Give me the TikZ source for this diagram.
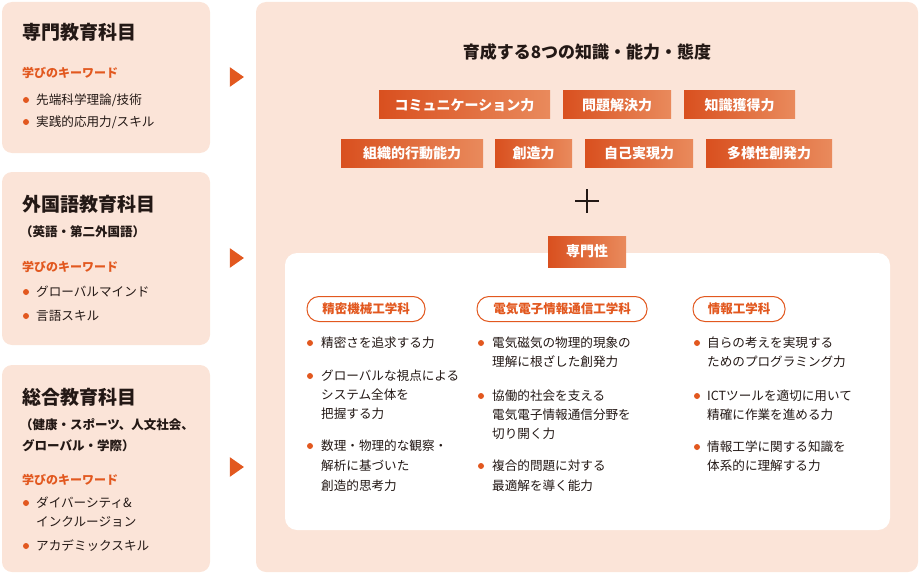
\documentclass[tikz,border=0pt]{standalone}
\usepackage{fontspec}
\setmainfont{Noto Sans CJK JP}
\usetikzlibrary{shapes.geometric}
\definecolor{bgp}{HTML}{FBE4D8}
\definecolor{org}{HTML}{E2581F}
\definecolor{dk}{HTML}{D9501F}
\definecolor{lt}{HTML}{E98A5C}
\definecolor{tx}{HTML}{231815}
\tikzset{
 panel/.style={fill=bgp,draw=none,rounded corners=10pt},
 txt/.style={anchor=west,inner sep=0pt,text=tx,font=\fontsize{12.6}{14}\selectfont},
 head/.style={anchor=west,inner sep=0pt,text=tx,font=\bfseries\fontsize{19}{21}\selectfont},
 sub/.style={anchor=west,inner sep=0pt,text=tx,font=\bfseries\fontsize{12.5}{14}\selectfont},
 kw/.style={anchor=west,inner sep=0pt,text=org,font=\bfseries\fontsize{12}{13}\selectfont},
 dot/.style={circle,fill=org,inner sep=0pt,minimum size=6pt},
 tri/.style={isosceles triangle,fill=org,inner sep=0pt,minimum height=14pt,minimum width=17pt,isosceles triangle apex angle=70},
 tag/.style={left color=dk,right color=lt,text=white,font=\bfseries\fontsize{14}{16}\selectfont,inner sep=0pt,minimum height=28pt},
 pill/.style={draw=org,line width=1pt,rounded corners=12pt,fill=white,text=org,font=\bfseries\fontsize{12.5}{14}\selectfont,minimum height=25pt,inner sep=0pt}
}
\begin{document}
\begin{tikzpicture}[x=1pt,y=-1pt]
\useasboundingbox (0,0) rectangle (920,575);
% left panels
\fill[panel] (2,2) rectangle (210,153);
\fill[panel] (2,172) rectangle (210,345);
\fill[panel] (2,365) rectangle (210,572);
\node[head] (h1) at (22,32) {専門教育科目};
\node[kw] (k1) at (22,73) {学びのキーワード};
\node[dot] (d11) at (26,100) {}; \node[txt] (t11) at (36,100) {先端科学理論/技術};
\node[dot] (d12) at (26,122) {}; \node[txt] (t12) at (36,122) {実践的応用力/スキル};
\node[head] (h2) at (22,204) {外国語教育科目};
\node[sub] (s2) at (20,232) {（英語・第二外国語）};
\node[kw] (k2) at (22,267) {学びのキーワード};
\node[dot] (d21) at (26,292) {}; \node[txt] (t21) at (36,292) {グローバルマインド};
\node[dot] (d22) at (26,316) {}; \node[txt] (t22) at (36,316) {言語スキル};
\node[head] (h3) at (22,397) {総合教育科目};
\node[sub] (s3) at (20,425) {（健康・スポーツ、人文社会、};
\node[sub] (s3b) at (22,446) {グローバル・学際）};
\node[kw] (k3) at (22,480) {学びのキーワード};
\node[dot] (d31) at (26,503) {}; \node[txt] (t31) at (36,503) {ダイバーシティ\&};
\node[txt] (t31b) at (36,522) {インクルージョン};
\node[dot] (d32) at (26,546) {}; \node[txt] (t32) at (36,546) {アカデミックスキル};
% arrows
\node[tri] (a1) at (235,77) {};
\node[tri] (a2) at (235,258) {};
\node[tri] (a3) at (235,467) {};
% big panel
\fill[panel] (256,2) rectangle (918,572);
\node[inner sep=0pt,text=tx,font=\bfseries\fontsize{17}{19}\selectfont] (title) at (587,52) {育成する8つの知識・能力・態度};
\node[tag,minimum width=171pt] (g1) at (464.5,105) {コミュニケーション力};
\node[tag,minimum width=108pt] (g2) at (617,105) {問題解決力};
\node[tag,minimum width=111pt] (g3) at (739.5,105) {知識獲得力};
\node[tag,minimum width=142pt] (g4) at (412,153) {組織的行動能力};
\node[tag,minimum width=77pt] (g5) at (533.5,153) {創造力};
\node[tag,minimum width=108pt] (g6) at (639,153) {自己実現力};
\node[tag,minimum width=126pt] (g7) at (769,153) {多様性創発力};
\draw[tx,line width=1.3pt] (575,201) -- (599,201) (587,189) -- (587,213);
\fill[white,rounded corners=12pt] (285,253) rectangle (890,530);
\node[tag,minimum width=78pt,minimum height=31pt] (sp) at (587,251.5) {専門性};
% departments
\node[pill,minimum width=118pt] (p1) at (366,309) {精密機械工学科};
\node[pill,minimum width=170pt] (p2) at (562,309) {電気電子情報通信工学科};
\node[pill,minimum width=92pt] (p3) at (739,309) {情報工学科};
% col1
\node[dot] (c11) at (310,343) {}; \node[txt] (e11) at (321,343) {精密さを追求する力};
\node[dot] (c12) at (310,376) {}; \node[txt] (e12) at (321,376) {グローバルな視点による};
\node[txt] (e12b) at (321,395) {システム全体を};
\node[txt] (e12c) at (321,414) {把握する力};
\node[dot] (c13) at (310,446) {}; \node[txt] (e13) at (321,446) {数理・物理的な観察・};
\node[txt] (e13b) at (321,466) {解析に基づいた};
\node[txt] (e13c) at (321,486) {創造的思考力};
% col2
\node[dot] (c21) at (481,343) {}; \node[txt] (e21) at (492,343) {電気磁気の物理的現象の};
\node[txt] (e21b) at (492,362) {理解に根ざした創発力};
\node[dot] (c22) at (481,396) {}; \node[txt] (e22) at (492,396) {協働的社会を支える};
\node[txt] (e22b) at (492,415) {電気電子情報通信分野を};
\node[txt] (e22c) at (492,434) {切り開く力};
\node[dot] (c23) at (481,466) {}; \node[txt] (e23) at (492,466) {複合的問題に対する};
\node[txt] (e23b) at (492,486) {最適解を導く能力};
% col3
\node[dot] (c31) at (697,343) {}; \node[txt] (e31) at (707,343) {自らの考えを実現する};
\node[txt] (e31b) at (707,362) {ためのプログラミング力};
\node[dot] (c32) at (697,396) {}; \node[txt] (e32) at (707,396) {ICTツールを適切に用いて};
\node[txt] (e32b) at (707,415) {精確に作業を進める力};
\node[dot] (c33) at (697,447) {}; \node[txt] (e33) at (707,447) {情報工学に関する知識を};
\node[txt] (e33b) at (707,466) {体系的に理解する力};
\end{tikzpicture}
\end{document}
